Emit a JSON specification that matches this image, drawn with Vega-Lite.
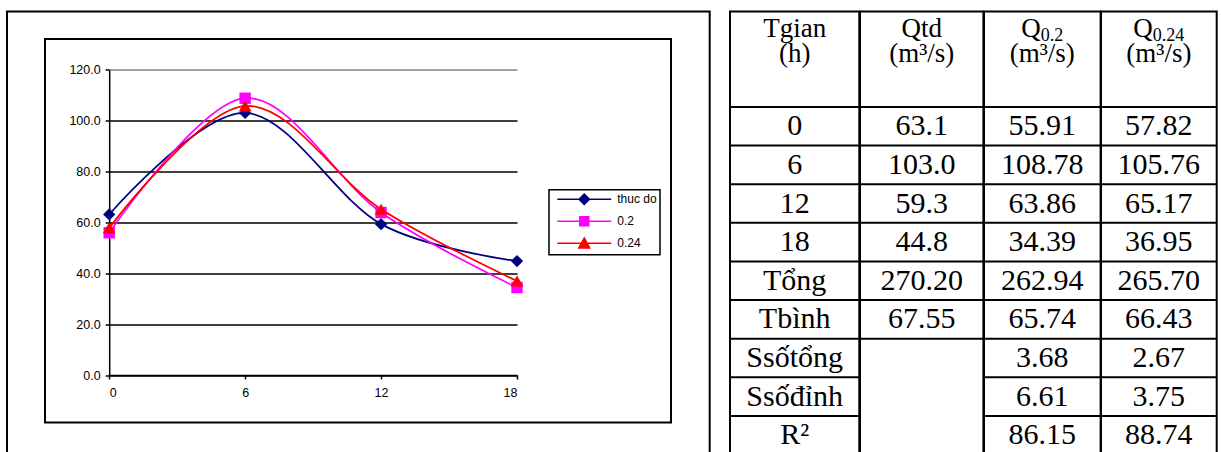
{
  "$schema": "https://vega.github.io/schema/vega-lite/v6.json",
  "padding": {"left": 6, "top": 10.5, "right": 0, "bottom": 0},
  "spacing": 0,
  "bounds": "flush",
  "config": {
    "view": {"stroke": "black", "strokeWidth": 2},
    "text": {"font": "Liberation Serif", "fontSize": 30, "color": "black"},
    "rule": {"color": "black", "strokeWidth": 2},
    "legend": {"strokeWidth": 1.5}
  },
  "datasets": {
    "flow": [
      {"t": 0, "series": "thuc do", "q": 63.1},
      {"t": 6, "series": "thuc do", "q": 103.0},
      {"t": 12, "series": "thuc do", "q": 59.3},
      {"t": 18, "series": "thuc do", "q": 44.8},
      {"t": 0, "series": "0.2", "q": 55.91},
      {"t": 6, "series": "0.2", "q": 108.78},
      {"t": 12, "series": "0.2", "q": 63.86},
      {"t": 18, "series": "0.2", "q": 34.39},
      {"t": 0, "series": "0.24", "q": 57.82},
      {"t": 6, "series": "0.24", "q": 105.76},
      {"t": 12, "series": "0.24", "q": 65.17},
      {"t": 18, "series": "0.24", "q": 36.95}
    ],
    "header": [
      {"col": "tgian", "line": 1, "text": "Tgian"},
      {"col": "tgian", "line": 2, "text": "(h)"},
      {"col": "qtd", "line": 1, "text": "Qtd"},
      {"col": "qtd", "line": 2, "text": "(m³/s)"},
      {"col": "q02", "line": 1, "text": "Q", "sub": "0.2"},
      {"col": "q02", "line": 2, "text": "(m³/s)"},
      {"col": "q024", "line": 1, "text": "Q", "sub": "0.24"},
      {"col": "q024", "line": 2, "text": "(m³/s)"}
    ],
    "table": [
      {"row": "0", "qtd": "63.1", "q02": "55.91", "q024": "57.82"},
      {"row": "6", "qtd": "103.0", "q02": "108.78", "q024": "105.76"},
      {"row": "12", "qtd": "59.3", "q02": "63.86", "q024": "65.17"},
      {"row": "18", "qtd": "44.8", "q02": "34.39", "q024": "36.95"},
      {"row": "Tổng", "qtd": "270.20", "q02": "262.94", "q024": "265.70"},
      {"row": "Tbình", "qtd": "67.55", "q02": "65.74", "q024": "66.43"},
      {"row": "Ssốtổng", "q02": "3.68", "q024": "2.67"},
      {"row": "Ssốđỉnh", "q02": "6.61", "q024": "3.75"},
      {"row": "R²", "q02": "86.15", "q024": "88.74"}
    ]
  },
  "hconcat": [
    {
      "width": 702.7,
      "height": 460,
      "resolve": {"scale": {"x": "independent", "y": "independent"}},
      "layer": [
        {
          "data": {"values": [{"area": "Chart Area"}]},
          "mark": {"type": "rect", "fill": "transparent", "stroke": "black", "strokeWidth": 2},
          "encoding": {
            "x": {"field": "area", "type": "nominal", "scale": {"range": [38, 664], "paddingInner": 0, "paddingOuter": 0}, "axis": null},
            "y": {"field": "area", "type": "nominal", "scale": {"range": [27.5, 411], "paddingInner": 0, "paddingOuter": 0}, "axis": null}
          }
        },
        {
          "data": {"name": "flow"},
          "encoding": {
            "x": {
              "field": "t", "type": "quantitative",
              "scale": {"domain": [0, 18], "range": [102.2, 510], "nice": false, "zero": false},
              "axis": {
                "orient": "bottom", "offset": -96.5, "values": [0, 6, 12, 18], "format": "d", "title": null, "grid": false,
                "domainColor": "black", "domainWidth": 1.5, "tickColor": "black", "tickWidth": 1.5, "tickSize": 4,
                "labelFont": "Liberation Sans", "labelFontSize": 12.5, "labelColor": "black", "labelPadding": 7
              }
            },
            "y": {
              "field": "q", "type": "quantitative",
              "scale": {"domain": [0, 120], "range": [363.5, 58.2], "nice": false},
              "axis": {
                "orient": "left", "offset": -102.2, "values": [0, 20, 40, 60, 80, 100, 120], "format": ".1f", "title": null,
                "domainColor": "black", "domainWidth": 1.5, "tickColor": "black", "tickWidth": 1.5, "tickSize": 4,
                "labelFont": "Liberation Sans", "labelFontSize": 12.5, "labelColor": "black", "labelPadding": 5,
                "grid": true, "gridWidth": 1.5,
                "gridColor": {"condition": {"test": "datum.value === 120", "value": "#808080"}, "value": "black"}
              }
            }
          },
          "layer": [
            {
              "transform": [{"aggregate": [{"op": "max", "field": "t", "as": "tmax"}]}],
              "mark": {"type": "rule", "color": "#808080", "strokeWidth": 1.5},
              "encoding": {
                "x": {"field": "tmax", "type": "quantitative"},
                "y": {"datum": 0, "type": "quantitative"},
                "y2": {"datum": 120}
              }
            },
            {
              "mark": {"type": "line", "interpolate": "cardinal", "strokeWidth": 1.75},
              "encoding": {
                "color": {
                  "field": "series", "type": "nominal",
                  "scale": {"domain": ["thuc do", "0.2", "0.24"], "range": ["#000080", "#FF00FF", "#FF0000"]},
                  "legend": {
                    "title": null, "orient": "none", "legendX": 542, "legendY": 178.2, "direction": "vertical",
                    "fillColor": "white", "strokeColor": "black", "padding": 3, "rowPadding": 5,
                    "symbolSize": 121, "symbolOffset": 25.75, "labelOffset": 26.5,
                    "labelFont": "Liberation Sans", "labelFontSize": 12, "labelColor": "black",
                    "encode": {
                      "symbols": {
                        "update": {
                          "shape": [
                            {"test": "datum.value === 'thuc do'", "value": "M-4.9,0H4.9M0,-0.95L0.95,0L0,0.95L-0.95,0Z"},
                            {"test": "datum.value === '0.2'", "value": "M-4.9,0H4.9M-0.82,-0.82H0.82V0.82H-0.82Z"},
                            {"value": "M-4.9,0H4.9M0,-0.95L1,0.86H-1Z"}
                          ],
                          "fill": [
                            {"test": "datum.value === 'thuc do'", "value": "#000080"},
                            {"test": "datum.value === '0.2'", "value": "#FF00FF"},
                            {"value": "#FF0000"}
                          ],
                          "stroke": [
                            {"test": "datum.value === 'thuc do'", "value": "#000080"},
                            {"test": "datum.value === '0.2'", "value": "#FF00FF"},
                            {"value": "#FF0000"}
                          ],
                          "strokeWidth": {"value": 1.5}
                        }
                      }
                    }
                  }
                }
              }
            },
            {
              "transform": [{"filter": "datum.series === 'thuc do'"}],
              "mark": {"type": "point", "shape": "diamond", "filled": true, "opacity": 1, "size": 150},
              "encoding": {"color": {"field": "series", "type": "nominal"}}
            },
            {
              "transform": [{"filter": "datum.series === '0.2'"}],
              "mark": {"type": "point", "shape": "square", "filled": true, "opacity": 1, "size": 130},
              "encoding": {"color": {"field": "series", "type": "nominal"}}
            },
            {
              "transform": [{"filter": "datum.series === '0.24'"}],
              "mark": {"type": "point", "shape": "triangle-up", "filled": true, "opacity": 1, "size": 165},
              "encoding": {"color": {"field": "series", "type": "nominal"}}
            }
          ]
        }
      ]
    },
    {
      "width": 19.3,
      "height": 460,
      "data": {"values": []},
      "mark": "text"
    },
    {
      "width": 129.3,
      "height": 443.1,
      "resolve": {"scale": {"y": "independent"}},
      "layer": [
        {
          "data": {"name": "header"},
          "transform": [{"filter": "datum.col === 'tgian'"}],
          "mark": {"type": "text", "baseline": "alphabetic", "fontSize": 27},
          "encoding": {
            "y": {"field": "line", "type": "ordinal", "scale": {"type": "point", "domain": [1, 2], "range": [25, 50], "padding": 0}, "axis": null},
            "text": {"field": "text"}
          }
        },
        {
          "data": {"name": "table"},
          "encoding": {
            "y": {
              "field": "row", "type": "nominal", "sort": null,
              "scale": {"domain": ["0", "6", "12", "18", "Tổng", "Tbình", "Ssốtổng", "Ssốđỉnh", "R²"], "range": [95.5, 443.1], "paddingInner": 0, "paddingOuter": 0},
              "axis": null
            }
          },
          "layer": [
            {"mark": {"type": "rule"}, "encoding": {"y": {"field": "row", "type": "nominal", "bandPosition": 0}}},
            {"mark": {"type": "text", "baseline": "middle"}, "encoding": {"text": {"field": "row"}}}
          ]
        }
      ]
    },
    {
      "width": 123.4,
      "height": 443.1,
      "resolve": {"scale": {"y": "independent"}},
      "layer": [
        {
          "data": {"name": "header"},
          "transform": [{"filter": "datum.col === 'qtd'"}],
          "mark": {"type": "text", "baseline": "alphabetic", "fontSize": 27},
          "encoding": {
            "y": {"field": "line", "type": "ordinal", "scale": {"type": "point", "domain": [1, 2], "range": [25, 50], "padding": 0}, "axis": null},
            "text": {"field": "text"}
          }
        },
        {
          "data": {"name": "table"},
          "transform": [{"filter": "isValid(datum.qtd) || datum.row === 'Ssốtổng'"}],
          "encoding": {
            "y": {
              "field": "row", "type": "nominal", "sort": null,
              "scale": {"domain": ["0", "6", "12", "18", "Tổng", "Tbình", "Ssốtổng", "Ssốđỉnh", "R²"], "range": [95.5, 443.1], "paddingInner": 0, "paddingOuter": 0},
              "axis": null
            }
          },
          "layer": [
            {"mark": {"type": "rule"}, "encoding": {"y": {"field": "row", "type": "nominal", "bandPosition": 0}}},
            {"transform": [{"filter": "isValid(datum.qtd)"}], "mark": {"type": "text", "baseline": "middle"}, "encoding": {"text": {"field": "qtd"}}}
          ]
        }
      ]
    },
    {
      "width": 116.6,
      "height": 443.1,
      "resolve": {"scale": {"y": "independent"}},
      "layer": [
        {
          "data": {"name": "header"},
          "transform": [{"filter": "datum.col === 'q02'"}],
          "encoding": {
            "y": {"field": "line", "type": "ordinal", "scale": {"type": "point", "domain": [1, 2], "range": [25, 50], "padding": 0}, "axis": null}
          },
          "layer": [
            {"transform": [{"filter": "datum.line === 2"}], "mark": {"type": "text", "baseline": "alphabetic", "fontSize": 27}, "encoding": {"text": {"field": "text"}}},
            {"transform": [{"filter": "datum.line === 1"}], "mark": {"type": "text", "baseline": "alphabetic", "fontSize": 27, "dx": -11.25}, "encoding": {"text": {"field": "text"}}},
            {"transform": [{"filter": "datum.line === 1"}], "mark": {"type": "text", "baseline": "alphabetic", "align": "left", "dx": -1.5, "dy": 4, "fontSize": 18}, "encoding": {"text": {"field": "sub"}}}
          ]
        },
        {
          "data": {"name": "table"},
          "encoding": {
            "y": {
              "field": "row", "type": "nominal", "sort": null,
              "scale": {"domain": ["0", "6", "12", "18", "Tổng", "Tbình", "Ssốtổng", "Ssốđỉnh", "R²"], "range": [95.5, 443.1], "paddingInner": 0, "paddingOuter": 0},
              "axis": null
            }
          },
          "layer": [
            {"mark": {"type": "rule"}, "encoding": {"y": {"field": "row", "type": "nominal", "bandPosition": 0}}},
            {"mark": {"type": "text", "baseline": "middle"}, "encoding": {"text": {"field": "q02"}}}
          ]
        }
      ]
    },
    {
      "width": 115.7,
      "height": 443.1,
      "resolve": {"scale": {"y": "independent"}},
      "layer": [
        {
          "data": {"name": "header"},
          "transform": [{"filter": "datum.col === 'q024'"}],
          "encoding": {
            "y": {"field": "line", "type": "ordinal", "scale": {"type": "point", "domain": [1, 2], "range": [25, 50], "padding": 0}, "axis": null}
          },
          "layer": [
            {"transform": [{"filter": "datum.line === 2"}], "mark": {"type": "text", "baseline": "alphabetic", "fontSize": 27}, "encoding": {"text": {"field": "text"}}},
            {"transform": [{"filter": "datum.line === 1"}], "mark": {"type": "text", "baseline": "alphabetic", "fontSize": 27, "dx": -15.75}, "encoding": {"text": {"field": "text"}}},
            {"transform": [{"filter": "datum.line === 1"}], "mark": {"type": "text", "baseline": "alphabetic", "align": "left", "dx": -6, "dy": 4, "fontSize": 18}, "encoding": {"text": {"field": "sub"}}}
          ]
        },
        {
          "data": {"name": "table"},
          "encoding": {
            "y": {
              "field": "row", "type": "nominal", "sort": null,
              "scale": {"domain": ["0", "6", "12", "18", "Tổng", "Tbình", "Ssốtổng", "Ssốđỉnh", "R²"], "range": [95.5, 443.1], "paddingInner": 0, "paddingOuter": 0},
              "axis": null
            }
          },
          "layer": [
            {"mark": {"type": "rule"}, "encoding": {"y": {"field": "row", "type": "nominal", "bandPosition": 0}}},
            {"mark": {"type": "text", "baseline": "middle"}, "encoding": {"text": {"field": "q024"}}}
          ]
        }
      ]
    }
  ]
}
